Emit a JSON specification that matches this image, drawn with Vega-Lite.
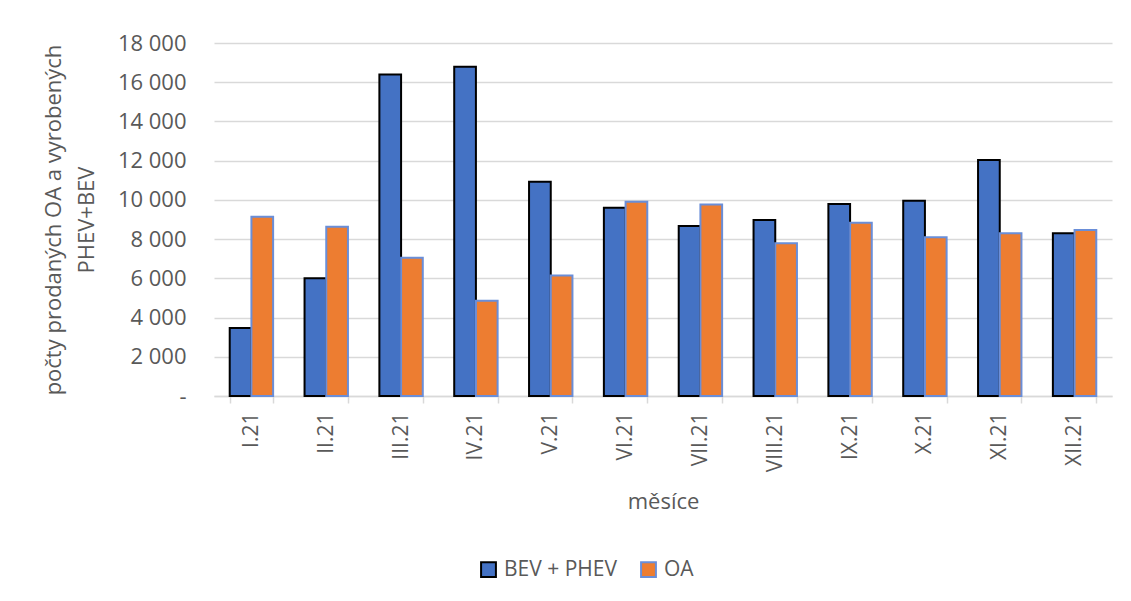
{
  "$schema": "https://vega.github.io/schema/vega-lite/v6.json",
  "width": 898,
  "height": 353,
  "autosize": {"type": "none"},
  "padding": {"left": 214, "top": 43, "right": 19, "bottom": 205},
  "background": "white",
  "data": {
    "values": [
      {"mesic": "I.21", "serie": "BEV + PHEV", "pocet": 3470},
      {"mesic": "I.21", "serie": "OA", "pocet": 9140},
      {"mesic": "II.21", "serie": "BEV + PHEV", "pocet": 6000},
      {"mesic": "II.21", "serie": "OA", "pocet": 8630},
      {"mesic": "III.21", "serie": "BEV + PHEV", "pocet": 16390},
      {"mesic": "III.21", "serie": "OA", "pocet": 7050},
      {"mesic": "IV.21", "serie": "BEV + PHEV", "pocet": 16790},
      {"mesic": "IV.21", "serie": "OA", "pocet": 4860},
      {"mesic": "V.21", "serie": "BEV + PHEV", "pocet": 10930},
      {"mesic": "V.21", "serie": "OA", "pocet": 6150},
      {"mesic": "VI.21", "serie": "BEV + PHEV", "pocet": 9600},
      {"mesic": "VI.21", "serie": "OA", "pocet": 9910},
      {"mesic": "VII.21", "serie": "BEV + PHEV", "pocet": 8670},
      {"mesic": "VII.21", "serie": "OA", "pocet": 9770},
      {"mesic": "VIII.21", "serie": "BEV + PHEV", "pocet": 8980},
      {"mesic": "VIII.21", "serie": "OA", "pocet": 7790},
      {"mesic": "IX.21", "serie": "BEV + PHEV", "pocet": 9790},
      {"mesic": "IX.21", "serie": "OA", "pocet": 8840},
      {"mesic": "X.21", "serie": "BEV + PHEV", "pocet": 9960},
      {"mesic": "X.21", "serie": "OA", "pocet": 8090},
      {"mesic": "XI.21", "serie": "BEV + PHEV", "pocet": 12040},
      {"mesic": "XI.21", "serie": "OA", "pocet": 8300},
      {"mesic": "XII.21", "serie": "BEV + PHEV", "pocet": 8300},
      {"mesic": "XII.21", "serie": "OA", "pocet": 8470}
    ]
  },
  "mark": {"type": "bar", "strokeWidth": 2},
  "encoding": {
    "x": {
      "field": "mesic",
      "type": "nominal",
      "sort": null,
      "scale": {"paddingInner": 0.42, "paddingOuter": 0.21},
      "axis": {
        "title": "měsíce",
        "titleFont": "Open Sans",
        "titleFontSize": 22,
        "titleFontWeight": "normal",
        "titleColor": "#595959",
        "titlePadding": 20,
        "labelAngle": -90,
        "labelFont": "Open Sans",
        "labelFontSize": 21,
        "labelColor": "#595959",
        "labelPadding": 9,
        "domainColor": "#D9D9D9",
        "domainWidth": 1.5,
        "tickColor": "#D9D9D9",
        "tickWidth": 1.5,
        "tickSize": 7,
        "tickBand": "extent",
        "grid": false
      }
    },
    "xOffset": {"field": "serie", "type": "nominal", "sort": ["BEV + PHEV", "OA"]},
    "y": {
      "field": "pocet",
      "type": "quantitative",
      "scale": {"domain": [0, 18000]},
      "axis": {
        "values": [0, 2000, 4000, 6000, 8000, 10000, 12000, 14000, 16000, 18000],
        "labelExpr": "datum.value == 0 ? '-' : replace(format(datum.value, ','), ',', ' ')",
        "title": ["počty prodaných OA a vyrobených", "PHEV+BEV"],
        "titleFont": "Open Sans",
        "titleFontSize": 22,
        "titleFontWeight": "normal",
        "titleColor": "#595959",
        "titleLineHeight": 33,
        "titlePadding": 19,
        "labelFont": "Open Sans",
        "labelFontSize": 22,
        "labelColor": "#595959",
        "labelPadding": 28,
        "domain": false,
        "ticks": false,
        "gridColor": "#D9D9D9",
        "gridWidth": 1.5
      }
    },
    "color": {
      "field": "serie",
      "type": "nominal",
      "scale": {"domain": ["BEV + PHEV", "OA"], "range": ["#4472C4", "#ED7D31"]},
      "legend": {
        "title": null,
        "orient": "none",
        "direction": "horizontal",
        "legendX": 264,
        "legendY": 516,
        "symbolType": "square",
        "symbolSize": 220,
        "symbolStrokeWidth": 2,
        "labelFont": "Open Sans",
        "labelFontSize": 21,
        "labelColor": "#595959",
        "labelOffset": 5,
        "columnPadding": 20
      }
    },
    "stroke": {
      "field": "serie",
      "type": "nominal",
      "scale": {"domain": ["BEV + PHEV", "OA"], "range": ["#000000", "#6A8ED8"]},
      "legend": null
    }
  },
  "config": {
    "view": {"stroke": null}
  }
}
